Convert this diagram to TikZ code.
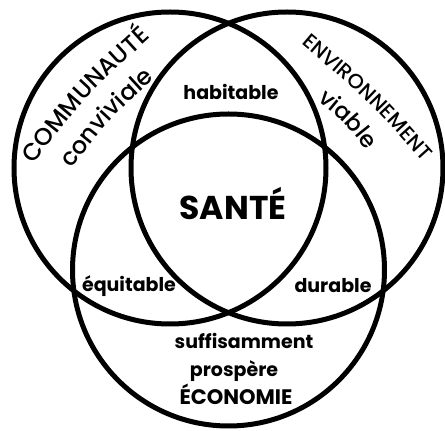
\documentclass[tikz,border=0pt]{standalone}
\usepackage{fontspec}
\setmainfont{Poppins}
\newfontfamily\arcfont{Poppins Medium}
\usepackage{tikz}
\usetikzlibrary{decorations.text,positioning}
\newcommand{\arcbig}{\arcfont\fontsize{24}{24}\selectfont}
\newcommand{\arcsmall}{\arcfont\fontsize{20.5}{20.5}\selectfont}
\tikzset{
  ring/.style={line width=5pt},
  zonetext/.style={font=\bfseries\fontsize{19}{19}\selectfont, inner sep=0pt, anchor=base},
  arctext/.style={decorate, decoration={text along path, text align=center, text={#1}}}
}

\begin{document}
\begin{tikzpicture}[x=1pt,y=1pt]
    \useasboundingbox (0,0) rectangle (445,431);
    % Circles
    \draw[ring] (170,263) circle[radius=156pt];
    \draw[ring] (287,263) circle[radius=156pt];
    \draw[ring] (228.5,161) circle[radius=156pt];

    % Curved names
    \path[arctext={|\arcbig|COMMUNAUTÉ}] (33,266) .. controls (86,335) .. (151,394);
    \path[arctext={|\arcbig|conviviale}] (72,263) .. controls (109,311) .. (154,352);
    \path[arctext={|\arcsmall|ENVIRONNEMENT}] (297,391) .. controls (366,333) .. (427,265);
    \path[arctext={|\arcfont\fontsize{23}{23}\selectfont|viable}] (318,330) .. controls (344,309) .. (366,281);

    % Overlaps
    \node[zonetext] (habitable) at (231,331.7) {habitable};
    \node[zonetext, font=\bfseries\fontsize{33}{33}\selectfont] (sante) at (233,211) {SANTÉ};
    \node[zonetext] (equitable) at (129,139.3) {équitable};
    \node[zonetext] (durable) at (333,138) {durable};
    \node[zonetext] (suffisamment) at (244,82.7) {suffisamment};
    \node[zonetext] (prospere) at (234,54.3) {prospère};
    \node[zonetext, font=\bfseries\fontsize{21}{21}\selectfont] (economie) at (236,26) {ÉCONOMIE};
\end{tikzpicture}
\end{document}
